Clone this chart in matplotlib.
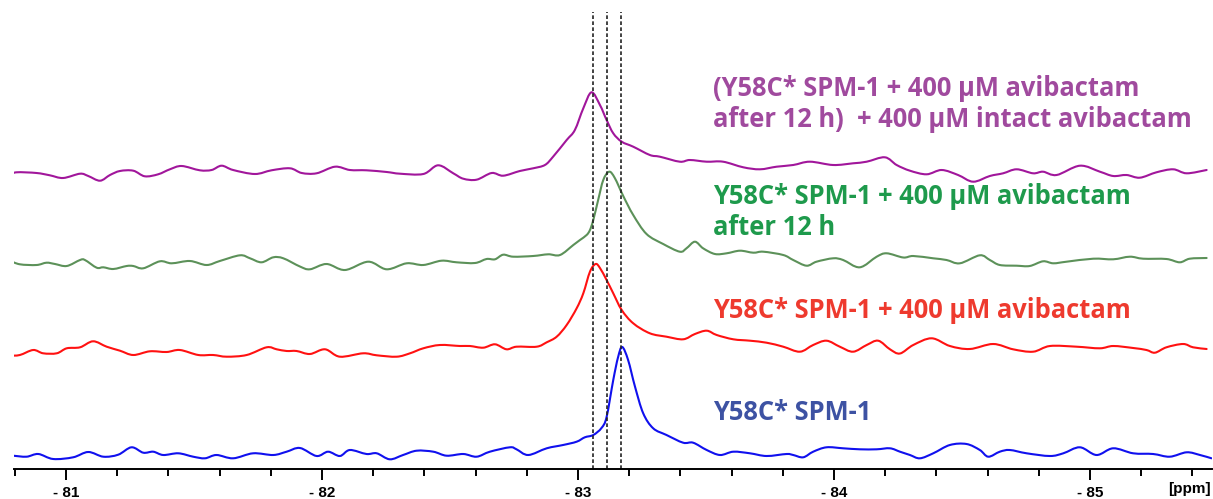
import matplotlib
matplotlib.use("Agg")
import numpy as np
import matplotlib.pyplot as plt
from matplotlib.path import Path
from matplotlib.patches import PathPatch
from matplotlib.ticker import MultipleLocator, FuncFormatter

# ---------------- data (chemical shift in ppm, intensity in a.u.) ----------------
purple_ppm = [-80.781, -80.807, -80.885, -80.937, -80.989, -81.055, -81.087, -81.133, -81.172, -81.211,
              -81.263, -81.308, -81.360, -81.406, -81.452, -81.523, -81.569, -81.608, -81.653, -81.738,
              -81.803, -81.875, -81.921, -81.979, -82.051, -82.109, -82.174, -82.253, -82.305, -82.396,
              -82.454, -82.513, -82.552, -82.604, -82.663, -82.708, -82.773, -82.825, -82.871, -82.903,
              -82.956, -82.988, -83.021, -83.053, -83.086, -83.112, -83.138, -83.171, -83.216, -83.281,
              -83.320, -83.398, -83.437, -83.503, -83.567, -83.646, -83.711, -83.776, -83.841, -83.906,
              -83.997, -84.075, -84.128, -84.199, -84.245, -84.297, -84.362, -84.421, -84.485, -84.544,
              -84.609, -84.661, -84.714, -84.778, -84.817, -84.870, -84.961, -85.039, -85.091, -85.143,
              -85.195, -85.260, -85.325, -85.378, -85.456]
purple_int = [-3, -0.3, -1, -3.3, -6, -1.7, -4, -8.7, -3, 1,
              1.3, -4.3, -2.3, 2.7, 6, 1.7, 2, 6.3, 2, -2,
              1.7, 3.7, -1, -1.3, 5.3, 2, 1.7, 0, -1.7, -2,
              6.7, -1.3, -6.7, -7.7, -1, -3.7, 1, 3.7, 7, 15.3,
              32, 42, 63.7, 79.7, 67, 52, 38.7, 30.3, 25.3, 17,
              15.3, 10.3, 12, 10.3, 10.3, 4.7, 2.7, 5.3, 7, 10.3,
              7, 8.7, 10.3, 14.7, 7, 1.3, -2.3, 2, -3, -9.7,
              -4, -1.3, 2.7, -1.3, 0.3, -3, 6.3, 0.3, -4, -3,
              -5.7, -0.3, 2.7, -1.3, 2]

green_ppm = [-80.781, -80.820, -80.885, -80.924, -80.957, -81.003, -81.055, -81.074, -81.120, -81.146,
             -81.185, -81.237, -81.263, -81.302, -81.367, -81.413, -81.484, -81.549, -81.601, -81.680,
             -81.719, -81.764, -81.810, -81.849, -81.914, -81.953, -82.018, -82.090, -82.181, -82.253,
             -82.331, -82.396, -82.467, -82.526, -82.598, -82.643, -82.676, -82.708, -82.747, -82.825,
             -82.884, -82.930, -82.982, -83.008, -83.034, -83.047, -83.060, -83.079, -83.099, -83.122,
             -83.144, -83.177, -83.216, -83.268, -83.333, -83.398, -83.424, -83.457, -83.489, -83.535,
             -83.581, -83.633, -83.685, -83.724, -83.802, -83.841, -83.893, -83.932, -83.997, -84.036,
             -84.101, -84.167, -84.206, -84.271, -84.310, -84.388, -84.440, -84.492, -84.570, -84.609,
             -84.648, -84.714, -84.765, -84.817, -84.857, -84.909, -85.013, -85.091, -85.156, -85.208,
             -85.299, -85.351, -85.390, -85.456]
green_int = [1.3, -2.3, -3, -0.7, -2, -4, 2, 2, -5.7, -5.3,
             -7, -4, -4, -6.3, 0.7, -1.3, 1, -3, 1, 6.7,
             3.7, -0.3, 4.7, 3.7, -4.5, -7.3, -2, -8, 0.3, -7.3,
             -1.3, -3, 1.3, -0.3, -1, 3, 2.7, 7.3, 5.3, 6,
             7.7, 7, 17, 22, 27, 32, 42, 62, 82, 90.3,
             84, 66, 47, 28, 18, 10.3, 13.7, 20.3, 13.7, 8,
             8.7, 11.3, 9.3, 10.3, 7, 2, -3.7, 0.3, 3.7, 2,
             -5.3, 5.3, 8.7, 4.5, 6, 3.7, 2, -1.3, 6.7, 2,
             -3, -3.7, -4, 0.7, -1.3, 0.3, 3.3, 2.7, 5.3, 3.3,
             3, -0.3, 3.3, 4]

red_ppm = [-80.781, -80.820, -80.872, -80.911, -80.964, -81.003, -81.055, -81.106, -81.159, -81.211,
           -81.263, -81.328, -81.393, -81.445, -81.517, -81.575, -81.628, -81.706, -81.784, -81.823,
           -81.862, -81.901, -81.953, -82.012, -82.070, -82.161, -82.214, -82.292, -82.344, -82.396,
           -82.461, -82.539, -82.578, -82.630, -82.676, -82.721, -82.760, -82.839, -82.878, -82.917,
           -82.956, -82.995, -83.021, -83.047, -83.069, -83.086, -83.112, -83.138, -83.171, -83.216,
           -83.281, -83.346, -83.411, -83.457, -83.503, -83.542, -83.607, -83.672, -83.737, -83.802,
           -83.867, -83.919, -83.971, -84.023, -84.075, -84.128, -84.173, -84.219, -84.258, -84.310,
           -84.382, -84.453, -84.531, -84.622, -84.700, -84.778, -84.844, -84.948, -85.039, -85.091,
           -85.169, -85.221, -85.254, -85.299, -85.364, -85.403, -85.456]
red_int = [-5.7, -5, 0, -3.3, -3.3, 1.7, 2.7, 8.7, 3.3, -0.7,
           -5, -1.3, -2, 0, -5, -5, -6.7, -5, 2.7, 0.7,
           -1, -1, -4, 0.7, -6.7, -3.3, -5.3, -6.7, -3.3, 1.7,
           5, 4, 4, 2.3, 5.7, 0.7, 3.3, 3.3, 7.7, 13.3,
           25, 41.7, 56.7, 78.3, 86, 82, 70, 56.7, 40, 26.7,
           16.7, 13.3, 10.7, 16, 19.3, 15, 10.7, 9.3, 7.3, 3.3,
           -1.7, 5, 9.3, 3.3, -1.7, 5, 9.3, 0.7, -3.5, 5,
           11.7, 4, 1, 6, 0.7, -1.7, 4, 3.3, 1.7, 4,
           2, 0, -2.7, 2.7, 6, 2.7, 1]

blue_ppm = [-80.794, -80.846, -80.892, -80.950, -81.028, -81.087, -81.146, -81.204, -81.256, -81.302,
            -81.341, -81.380, -81.439, -81.497, -81.543, -81.588, -81.653, -81.731, -81.810, -81.862,
            -81.914, -81.979, -82.024, -82.070, -82.109, -82.174, -82.214, -82.265, -82.317, -82.370,
            -82.435, -82.487, -82.552, -82.604, -82.656, -82.734, -82.760, -82.806, -82.878, -82.942,
            -82.995, -83.027, -83.060, -83.092, -83.112, -83.138, -83.157, -83.173, -83.196, -83.223,
            -83.255, -83.294, -83.346, -83.411, -83.450, -83.503, -83.555, -83.607, -83.672, -83.737,
            -83.815, -83.841, -83.880, -83.919, -83.971, -84.036, -84.101, -84.167, -84.219, -84.258,
            -84.297, -84.336, -84.388, -84.453, -84.518, -84.570, -84.603, -84.648, -84.687, -84.753,
            -84.844, -84.896, -84.961, -85.026, -85.091, -85.169, -85.247, -85.312, -85.378, -85.430,
            -85.475]
blue_int = [-0.7, -1.7, 1, -4, -2.3, 3, -1.7, 0.3, 7.7, 2.3,
            3.3, 0, 1.7, -1.7, -3.3, 0, -3.3, 1.7, 0, 3.3,
            7, -1, 3.3, -1, 5, 1, 1.7, -4.3, 0, 4.3,
            3.3, -0.7, 1, -1.7, 3.3, 7.7, 5.7, 0, 6.7, 10,
            13.3, 17.7, 20, 27, 38, 75, 98, 108, 95, 68.3,
            41.7, 26.7, 20, 12.3, 12.3, 5, 0, 3.3, 1.7, -1,
            1, 0, -2.3, 3.3, 7.7, 6.7, 5.7, 5.7, 6.7, 3.3,
            0, -3.3, 1.7, 10, 11, 5, -1.7, 3.3, 5, 1.7,
            -1, 1.7, 7.7, 0, 6.7, 1.7, 1, -1.7, 2.7, 0,
            -3.3]

dashed_ppm = [-83.057, -83.114, -83.169]

labels = [
    "(Y58C* SPM-1 + 400 µM avibactam\nafter 12 h)  + 400 µM intact avibactam",
    "Y58C* SPM-1 + 400 µM avibactam\nafter 12 h",
    "Y58C* SPM-1 + 400 µM avibactam",
    "Y58C* SPM-1",
]
tick_label_unit = "[ppm]"

# ---------------- layout / style ----------------
W, H = 1213, 499
fig = plt.figure(figsize=(W / 100, H / 100), dpi=100)
ax = fig.add_axes([14 / W, 30 / H, 1198 / W, 469 / H])
ax.set_xlim(-80.797, -85.477)
ax.set_ylim(0, 469)

line_colors = ["#a1169b", "#5c9159", "#ff1111", "#1010ee"]
text_colors = ["#a04a9e", "#1e9a4c", "#ee3a2e", "#3d52a3"]
offsets = [297, 207, 119, 14]
series = [(purple_ppm, purple_int), (green_ppm, green_int),
          (red_ppm, red_int), (blue_ppm, blue_int)]


def smooth_path(xs, ys):
    """Catmull-Rom curve through the data points, expressed as cubic Bezier path."""
    p = np.column_stack([xs, ys]).astype(float)
    ext = np.vstack([p[0], p, p[-1]])
    verts = [p[0]]
    codes = [Path.MOVETO]
    for i in range(1, len(ext) - 2):
        p0, p1, p2, p3 = ext[i - 1], ext[i], ext[i + 1], ext[i + 2]
        c1 = p1 + (p2 - p0) / 6.0
        c2 = p2 - (p3 - p1) / 6.0
        verts += [c1, c2, p2]
        codes += [Path.CURVE4] * 3
    return Path(verts, codes)


for (xs, ys), off, c in zip(series, offsets, line_colors):
    path = smooth_path(xs, [off + v for v in ys])
    ax.add_patch(PathPatch(path, facecolor="none", edgecolor=c, lw=1.5,
                           joinstyle="round", capstyle="round"))

for d in dashed_ppm:
    ax.axvline(d, ymin=0, ymax=457 / 469, color="#222222", lw=1.2,
               linestyle=(0, (2.2, 1.4)))

label_x = -83.527
label_y = [365, 257, 158, 57]
for txt, y, c in zip(labels, label_y, text_colors):
    ax.text(label_x, y, txt, color=c, fontsize=18.4, fontweight="bold",
            family="Open Sans", va="center", ha="left", linespacing=1.22)

for s in ["top", "left", "right"]:
    ax.spines[s].set_visible(False)
ax.spines["bottom"].set_linewidth(1.4)
ax.set_yticks([])
ax.xaxis.set_major_locator(MultipleLocator(1))
ax.xaxis.set_minor_locator(MultipleLocator(0.2))
ax.xaxis.set_major_formatter(FuncFormatter(lambda v, p: f"- {abs(v):.0f}"))
ax.tick_params(axis="x", which="major", length=8, width=1.4, pad=4, labelsize=11)
ax.tick_params(axis="x", which="minor", length=5, width=1.4)
for lab in ax.get_xticklabels():
    lab.set_fontweight("bold")
    lab.set_family("Liberation Sans")
ax.text(-85.473, -20, tick_label_unit, ha="right", va="center", fontsize=11,
        fontweight="bold", family="Liberation Sans", clip_on=False)

fig.savefig("out.png", dpi=100)
